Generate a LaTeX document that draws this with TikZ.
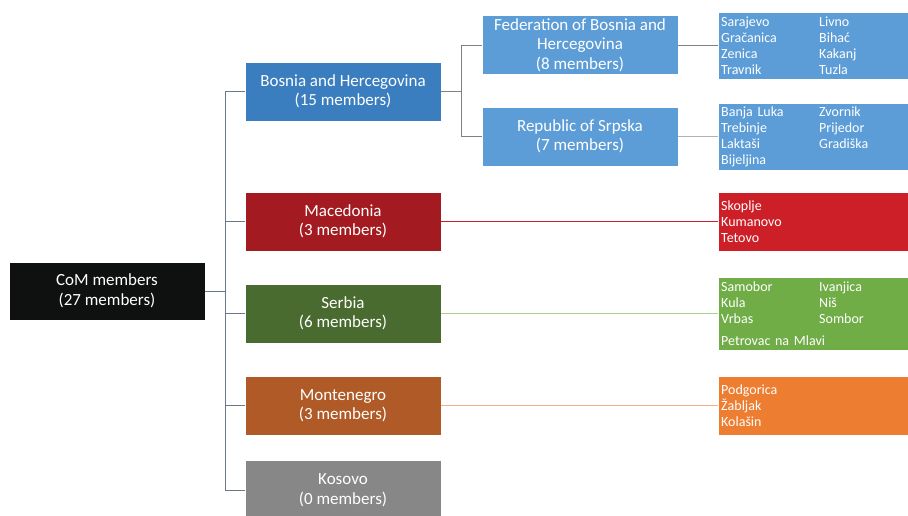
\documentclass[tikz,border=0pt]{standalone}
\usepackage{fontspec}
\setmainfont{Carlito}
\usepackage{tikz}
\usetikzlibrary{positioning}
\definecolor{customBlack}{HTML}{0F1111}
\definecolor{customBlue}{HTML}{3A7EC0}
\definecolor{customLightBlue}{HTML}{5D9DD7}
\definecolor{customRed}{HTML}{A31B20}
\definecolor{customLightRed}{HTML}{CC1F27}
\definecolor{customGreen}{HTML}{4A6B2F}
\definecolor{customLightGreen}{HTML}{70AD47}
\definecolor{customPaleGreen}{HTML}{A9D18E}
\definecolor{customOrange}{HTML}{B05A27}
\definecolor{customLightOrange}{HTML}{ED7D31}
\definecolor{customPaleOrange}{HTML}{F4B183}
\definecolor{customGrey}{HTML}{878787}
\definecolor{customLine}{HTML}{6A7888}

\begin{document}
\begin{tikzpicture} [
    x=1pt, y=-1pt,
    box/.style={rectangle, draw=white, thin, text=white, align=center, minimum width=196pt, minimum height=59pt, inner sep=0pt, font=\fontsize{17}{19.5}\selectfont},
    leaf/.style={rectangle, draw=white, thin, text=white, align=left, anchor=west, text width=186pt, inner xsep=3pt, inner ysep=0pt, font=\fontsize{14}{16}\selectfont},
    link/.style={line width=0.8pt, draw=customLine},
]
    \useasboundingbox (0, 0) rectangle (908, 516);

    % 0
    \node[box, fill=customBlack, minimum height=58pt] (root) at (107, 291) {CoM members\\(27 members)};

    % 1
    \node[box, fill=customBlue] (bih) at (343, 91.5) {Bosnia and Hercegovina\\(15 members)};
    \node[box, fill=customRed] (mk) at (343, 221.5) {Macedonia\\(3 members)};
    \node[box, fill=customGreen] (rs) at (343, 313.5) {Serbia\\(6 members)};
    \node[box, fill=customOrange] (me) at (343, 405.5) {Montenegro\\(3 members)};
    \node[box, fill=customGrey] (xk) at (343, 490) {Kosovo\\(0 members)};

    \draw[link] (root.east) -- ++(20, 0) |- (bih.west);
    \draw[link] (root.east) -- ++(20, 0) |- (mk.west);
    \draw[link] (root.east) -- ++(20, 0) |- (rs.west);
    \draw[link] (root.east) -- ++(20, 0) |- (me.west);
    \draw[link] (root.east) -- ++(20, 0) |- (xk.west);

    % 2
    \node[box, fill=customLightBlue] (fed) at (580, 45) {Federation of Bosnia and\\Hercegovina\\(8 members)};
    \node[box, fill=customLightBlue] (srp) at (580, 136.5) {Republic of Srpska\\(7 members)};

    \draw[link, draw=gray] (bih.east) -- ++(20, 0) |- (fed.west);
    \draw[link, draw=gray] (bih.east) -- ++(20, 0) |- (srp.west);

    % 3
    \node[leaf, fill=customLightBlue, minimum height=67pt] (fedCities) at (718, 45.5)
        {\makebox[98pt][l]{Sarajevo}Livno\\\makebox[98pt][l]{Gračanica}Bihać\\\makebox[98pt][l]{Zenica}Kakanj\\\makebox[98pt][l]{Travnik}Tuzla};
    \node[leaf, fill=customLightBlue, minimum height=67pt] (srpCities) at (718, 136.5)
        {\makebox[98pt][l]{Banja Luka}Zvornik\\\makebox[98pt][l]{Trebinje}Prijedor\\\makebox[98pt][l]{Laktaši}Gradiška\\Bijeljina};
    \node[leaf, fill=customLightRed, minimum height=59pt] (mkCities) at (718, 221.5)
        {Skoplje\\Kumanovo\\Tetovo};
    \node[leaf, fill=customLightGreen, minimum height=73pt] (rsCities) at (718, 313.5)
        {\makebox[98pt][l]{Samobor}Ivanjica\\\makebox[98pt][l]{Kula}Niš\\\makebox[98pt][l]{Vrbas}Sombor\\[6pt]Petrovac na Mlavi};
    \node[leaf, fill=customLightOrange, minimum height=59pt] (meCities) at (718, 405.5)
        {Podgorica\\Žabljak\\Kolašin};

    \draw[link, draw=gray] (fed.east) -- (fed.east -| fedCities.west);
    \draw[link, line width=1.2pt, draw=gray!60] (srp.east) -- (srp.east -| srpCities.west);
    \draw[link, line width=1.2pt, draw=customLightRed] (mk.east) -- (mk.east -| mkCities.west);
    \draw[link, line width=1.2pt, draw=customPaleGreen] (rs.east) -- (rs.east -| rsCities.west);
    \draw[link, line width=1.2pt, draw=customPaleOrange] (me.east) -- (me.east -| meCities.west);

\end{tikzpicture}
\end{document}
